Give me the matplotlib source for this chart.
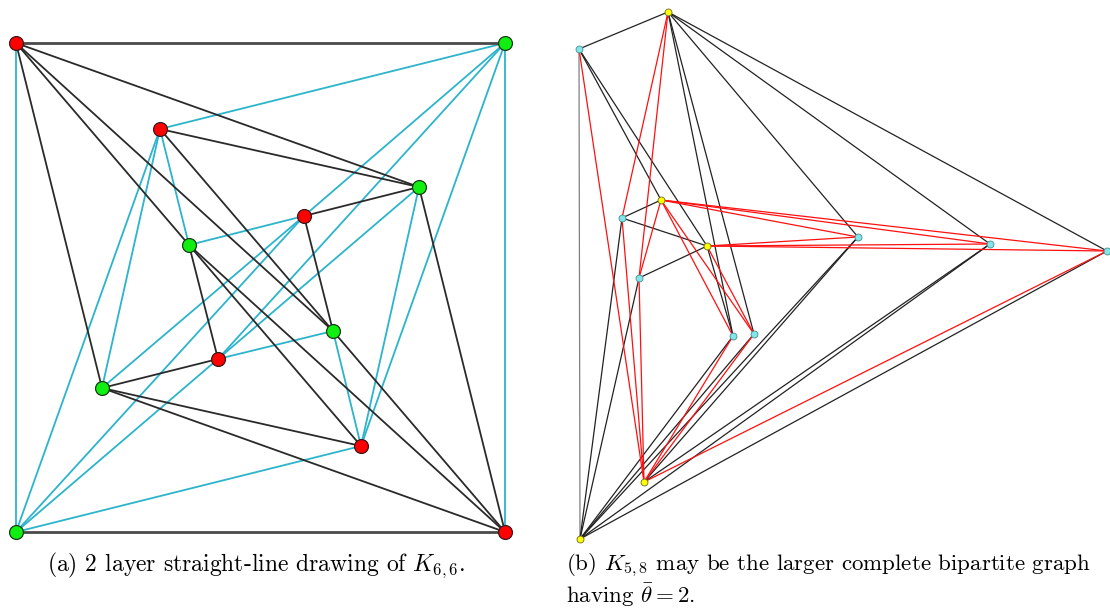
import numpy as np
import matplotlib
matplotlib.use('Agg')
import matplotlib.pyplot as plt

plt.rcParams['mathtext.fontset'] = 'cm'

# ---- (a) K6,6 drawn in two layers (pixel coords, y down) ----
red_x = [16, 160, 304, 218, 361, 505]
red_y = [43, 129, 216, 359, 446, 532]
green_x = [505, 419, 189, 333, 102, 16]
green_y = [43, 187, 245, 331, 388, 532]
# layer of edge (red i, green j): 'k' = black layer, 'c' = cyan layer
layers_a = ['kkkkkc',
            'ckckcc',
            'ckckcc',
            'cckckc',
            'cckckc',
            'ckkkkk']

# ---- (b) K5,8 ----
yel_x = [668, 661, 707, 644, 580]
yel_y = [12, 200, 246, 482, 539]
cyan_x = [579, 622, 639, 733, 754, 858, 990, 1107]
cyan_y = [49, 218, 278, 336, 334, 237, 244, 251]
layers_b = ['krrkkkkk',
            'kkrrrrrr',
            'kkkkrrrr',
            'rrrrrkkr',
            'kkkkkkkk']

cap_a = r'(a) 2 layer straight-line drawing of $K_{6,6}$.'
cap_b1 = r'(b) $K_{5,8}$ may be the larger complete bipartite graph'
cap_b2 = r'having $\bar{\theta} = 2$.'

fig = plt.figure(figsize=(11.1, 6.08), dpi=100)
ax = fig.add_axes([0, 0, 1, 1])
ax.set_xlim(0, 1110)
ax.set_ylim(608, 0)
ax.axis('off')

col_a = {'k': '#2a2a2a', 'c': '#2bb4cc'}
for lay in ['c', 'k']:
    for i in range(6):
        for j in range(6):
            if layers_a[i][j] == lay:
                # outer square sides come out a bit heavier
                outer = (red_y[i] == green_y[j])
                ax.plot([red_x[i], green_x[j]], [red_y[i], green_y[j]],
                        color='#4a4a4a' if outer else col_a[lay],
                        lw=2.0 if outer else 1.3, zorder=1, solid_capstyle='round')

ax.plot(red_x, red_y, 'o', ms=10, mfc='#ff0000', mec='#3a1a1a', mew=0.9, ls='none', zorder=3)
ax.plot(green_x, green_y, 'o', ms=10, mfc='#11ee11', mec='#1a3a1a', mew=0.9, ls='none', zorder=3)

col_b = {'k': '#222222', 'r': '#ff1010'}
for lay in ['k', 'r']:
    for i in range(5):
        for j in range(8):
            if layers_b[i][j] == lay:
                vert = (yel_x[i] - cyan_x[j]) ** 2 < 9
                ax.plot([yel_x[i], cyan_x[j]], [yel_y[i], cyan_y[j]],
                        color='#808080' if vert else col_b[lay], lw=0.9, zorder=1)

ax.plot(yel_x, yel_y, 'o', ms=5, mfc='#ffff00', mec='#6b6b20', mew=0.6, ls='none', zorder=3)
ax.plot(cyan_x, cyan_y, 'o', ms=5, mfc='#80e6ea', mec='#4a8c90', mew=0.6, ls='none', zorder=3)

ax.text(47, 565, cap_a, family='cmr10', fontsize=17, ha='left', va='center')
ax.text(566, 565, cap_b1, family='cmr10', fontsize=16.5, ha='left', va='center')
ax.text(566, 595, cap_b2, family='cmr10', fontsize=16.5, ha='left', va='center')

fig.savefig('out.png', dpi=100)
